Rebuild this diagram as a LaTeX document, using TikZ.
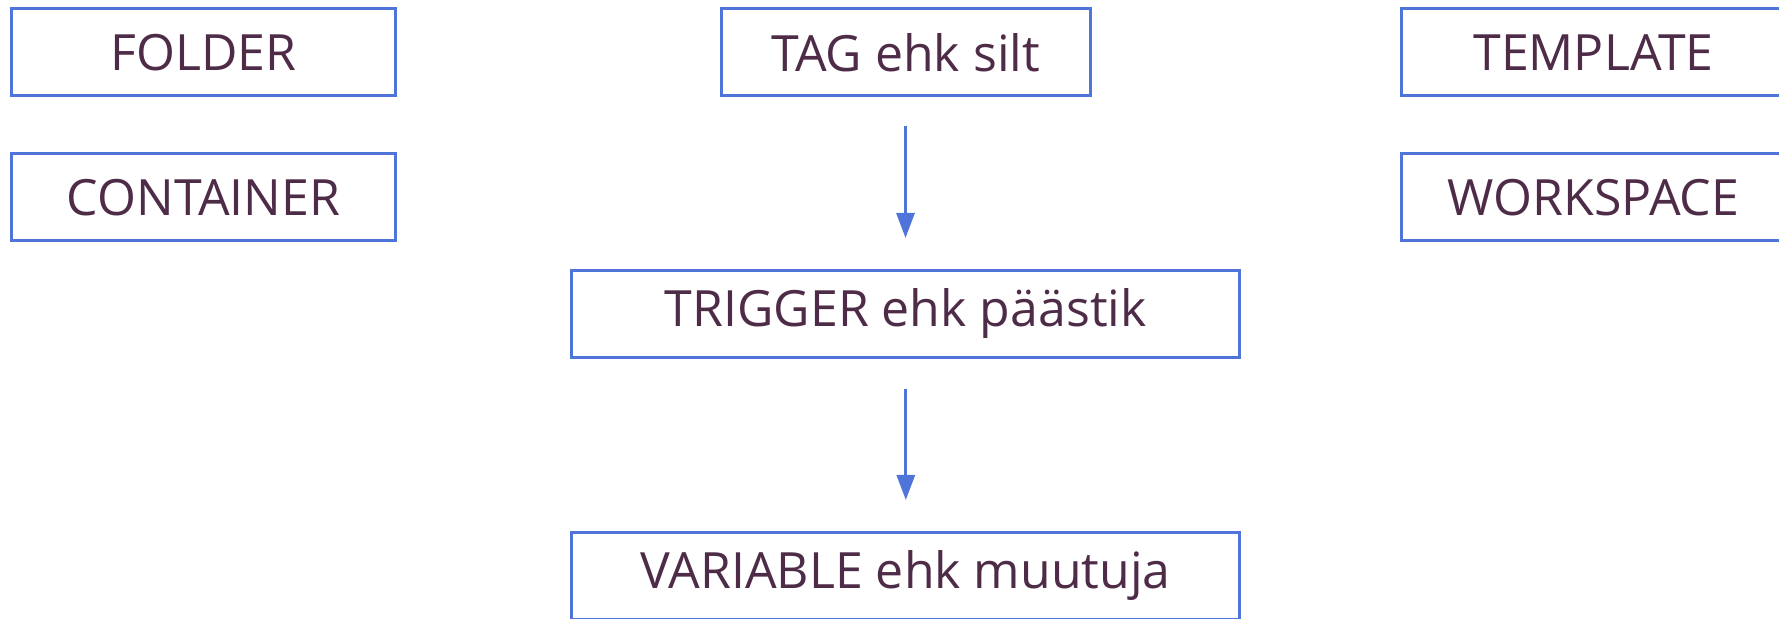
\documentclass[tikz,border=0pt]{standalone}
\usepackage{fontspec}
\setmainfont{Open Sans}
\usetikzlibrary{arrows.meta}
\definecolor{boxblue}{HTML}{4F75DB}
\definecolor{labelplum}{HTML}{4E2C48}
\tikzset{
  termbox/.style={draw=boxblue, line width=3pt, rectangle, minimum height=87pt,
    text=labelplum, font=\fontsize{50}{60}\selectfont, inner sep=0pt},
  flow/.style={draw=boxblue, line width=3pt, -{Triangle[width=18pt,length=25pt]}}
}
\begin{document}
\begin{tikzpicture}[x=1pt,y=1pt]
  \useasboundingbox (0,0) rectangle (1779,618);
  % side terms
  \node[termbox, minimum width=384pt] (folder) at (203.5,565.5) {FOLDER};
  \node[termbox, minimum width=384pt] (container) at (203.5,420.5) {CONTAINER};
  \node[termbox, minimum width=385pt] (template) at (1593.5,565.5) {TEMPLATE};
  \node[termbox, minimum width=385pt] (workspace) at (1593.5,420.5) {WORKSPACE};
  % main chain
  \node[termbox, minimum width=369pt] (tag) at (905.5,565.5) {TAG ehk silt};
  \node[termbox, minimum width=668pt] (trigger) at (905.8,304) {TRIGGER ehk päästik};
  \node[termbox, minimum width=668pt] (variable) at (905.8,42) {VARIABLE ehk muutuja};
  \draw[flow, shorten <=29pt, shorten >=31pt] (tag.south) -- (tag.south |- trigger.north);
  \draw[flow, shorten <=30pt, shorten >=31pt] (trigger.south) -- (trigger.south |- variable.north);
\end{tikzpicture}
\end{document}
